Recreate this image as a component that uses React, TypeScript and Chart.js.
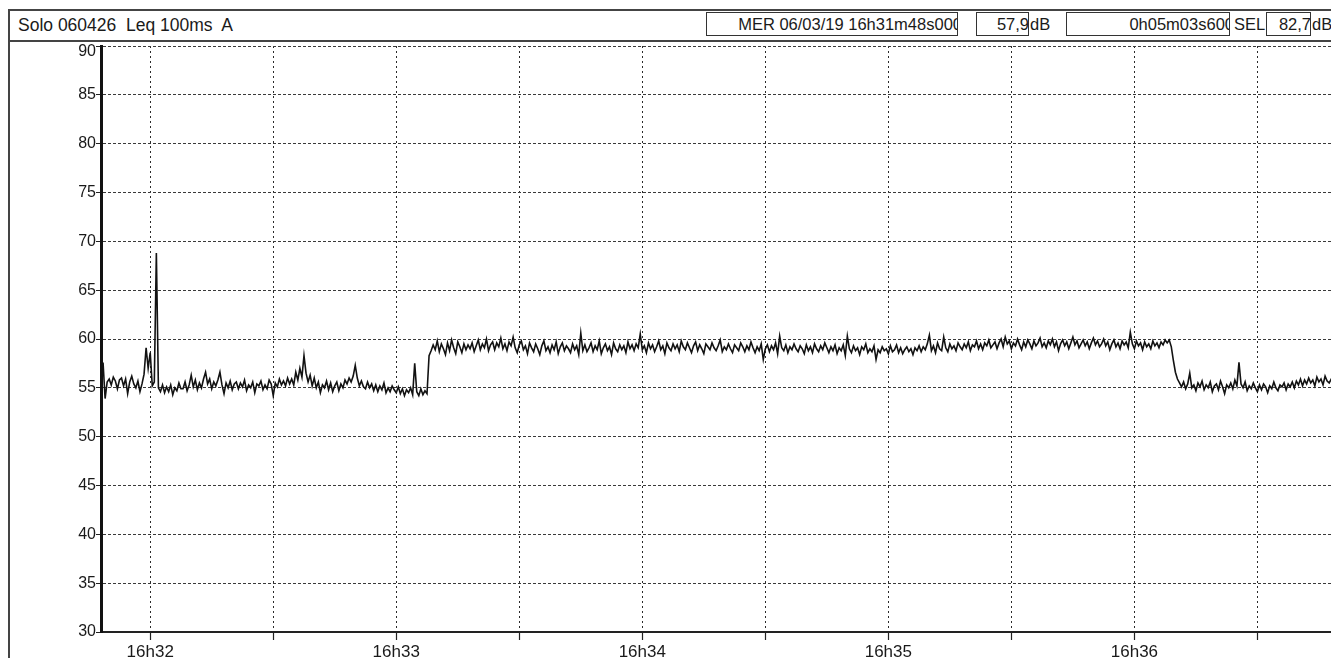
import React, { useEffect, useRef } from 'react';
import { Chart, registerables } from 'chart.js';

Chart.register(...registerables);

const FONT = '"Liberation Sans", Arial, sans-serif';

// Leq 100ms A, read every 0.5 s from 16h31m48s
const sampleStepSec = 0.5;
const totalSeconds = 303.6;
const levelsDb = [
  55.0, 57.6, 53.9, 55.6, 55.9, 55.3, 56.1, 55.7, 54.9, 55.8, 56.0, 55.2, 55.9, 54.4, 55.6, 56.2, 55.4, 55.0, 55.7, 54.6,
  55.4, 56.4, 59.1, 57.0, 58.6, 55.2, 55.6, 68.8, 55.0, 54.6, 55.3, 54.5, 55.1, 54.6, 55.3, 54.3, 55.0, 54.7, 55.5, 54.9,
  54.9, 55.6, 54.7, 55.3, 56.3, 55.1, 55.8, 54.8, 55.5, 55.0, 55.9, 56.6, 55.4, 55.9, 54.9, 55.6, 55.2, 55.8, 56.6, 55.3,
  54.4, 55.5, 55.0, 55.7, 54.8, 55.4, 55.6, 54.9, 55.5, 55.1, 55.8, 54.7, 55.3, 55.0, 55.6, 54.5, 55.4, 55.2, 55.7, 54.8,
  55.3, 54.9, 55.8, 55.4, 54.2, 55.5, 55.1, 55.9, 55.3, 55.7, 55.2, 56.0, 55.4, 55.9, 55.3, 56.6, 55.8, 57.0, 56.1, 58.3,
  56.5, 55.6, 56.3, 55.2, 56.0, 55.0, 55.6, 54.5, 55.3, 55.0, 55.7, 54.8, 55.5, 54.6, 55.2, 55.6, 54.7, 55.4, 55.0, 55.8,
  55.4, 56.0, 55.6, 56.2, 57.3, 56.0, 55.2, 55.7, 55.1, 54.9, 55.6, 55.0, 55.4, 54.7, 55.3, 54.6, 55.2, 54.8, 55.5, 54.5,
  55.0, 54.6, 55.2, 54.8, 54.5, 55.1, 54.4, 54.9, 54.2, 54.8, 54.5, 55.0, 54.3, 57.5, 54.6, 54.2, 54.9, 54.3, 54.7, 54.4,
  58.3, 58.8, 59.4, 58.9, 59.8, 58.7, 59.5, 59.0, 58.4, 59.6, 58.8, 59.9, 59.1, 58.5, 59.7, 59.2, 58.6, 59.5, 58.9, 59.4,
  59.0, 59.6, 58.7, 59.3, 59.9, 58.9, 59.5, 59.1, 60.0, 58.8, 59.4, 59.7, 58.9, 59.6, 59.2, 60.1, 59.0, 59.5, 58.8, 59.7,
  59.3, 60.2, 59.1, 58.6, 59.4, 59.8, 58.9, 59.3, 58.5, 59.6, 59.1, 58.7, 59.5, 59.0, 58.4, 59.3, 59.8, 58.8, 59.2, 58.6,
  59.4, 58.9, 59.7, 58.5, 59.2, 59.6, 58.8, 59.3, 59.0, 58.6, 59.5, 58.9, 59.3, 58.4, 60.6, 58.8, 59.4, 58.7, 59.1, 59.6,
  58.7, 59.3, 58.9, 59.8, 58.5, 59.1, 59.5, 58.8, 59.2, 58.4, 59.6, 59.0, 58.7, 59.4, 58.9, 59.3, 58.6, 59.7, 59.0, 59.4,
  58.8, 59.5, 59.1, 60.5, 58.9, 59.3, 58.6, 59.6, 59.0, 59.4, 58.7, 59.2, 59.8, 58.9, 59.3, 58.5, 59.6, 59.1, 58.8, 59.5,
  59.0, 59.4, 58.7, 59.8, 59.2, 58.9, 59.6, 59.1, 58.6, 59.3, 59.7, 58.8, 59.4, 59.0, 58.5, 59.5, 59.2, 58.9, 59.6, 59.1,
  58.8, 59.3, 59.9, 58.7, 59.2, 58.9, 59.5, 59.0, 58.6, 59.4, 59.1, 58.8, 59.6, 59.2, 58.7, 59.3, 58.9, 59.7, 59.1, 58.6,
  59.2, 58.8, 59.5, 57.9, 59.0, 59.4, 58.7, 59.3, 58.9, 59.6, 58.5, 60.3, 59.1, 58.8, 59.4, 58.6, 59.2, 58.9, 59.5, 59.0,
  58.7, 59.3, 59.0, 58.5, 59.4, 58.8, 59.2, 58.6, 59.5, 59.0, 58.7, 59.3, 58.9, 59.6, 59.1, 58.6, 59.2, 58.8, 59.4, 58.5,
  59.1, 58.8, 59.4, 58.3, 60.3, 59.0, 58.6, 59.3, 58.8, 59.1, 58.4, 59.2, 58.9, 59.5, 58.6, 59.0, 58.7, 59.3, 57.9, 58.9,
  58.6, 59.2, 58.8, 59.0, 58.5, 59.3, 58.7, 58.9, 59.4, 58.6, 59.1, 58.5, 58.9, 59.2, 58.7, 59.0, 58.4, 59.1, 58.8, 59.3,
  58.7, 59.2, 58.9, 59.5, 60.4, 58.8, 59.3, 58.6, 59.6, 59.0, 58.8, 60.2, 59.1, 58.7, 59.5, 59.0, 59.3, 58.8, 59.6, 59.2,
  58.9, 59.5, 59.1, 59.7, 58.8, 59.4, 59.2, 59.8, 59.0, 59.5, 58.9, 59.6, 59.3, 59.9, 59.1, 59.4, 59.7, 59.0, 59.6, 60.0,
  59.2, 60.2, 59.5, 59.8, 59.0, 59.6, 59.3, 60.0, 59.4, 58.9, 59.7, 59.2, 59.9, 59.5, 59.0, 59.8, 59.3, 59.6, 60.1, 59.2,
  59.6, 59.1, 59.8, 59.4, 60.0, 59.2, 59.7, 58.8, 59.5, 59.9, 59.3, 59.7, 59.0, 59.6, 60.2, 59.4, 59.8, 59.1, 59.5, 59.9,
  59.3, 59.7, 59.0, 59.6, 60.1, 59.4, 59.8, 59.2, 59.5, 60.0, 59.3, 59.7, 58.9, 59.5, 59.9, 59.2, 59.6, 59.0, 59.8, 59.4,
  59.7, 59.1, 60.7, 59.5, 59.0, 59.8, 59.3, 59.6, 58.9, 59.7, 59.2, 59.5, 59.0, 59.8, 59.3, 59.6, 59.1, 59.7, 59.4, 59.9,
  59.6, 59.9, 59.2, 57.8, 56.6, 55.9, 55.5, 55.1, 55.6, 54.9, 55.4, 56.5, 55.0, 55.3, 54.7, 55.5, 55.1, 55.7, 54.8, 55.3,
  55.0, 55.6, 54.6, 55.2, 55.4, 54.8, 55.7, 55.1, 54.4, 55.3, 55.0, 55.5, 54.9, 55.8, 55.2, 57.6, 55.4, 55.0, 55.6, 54.7,
  55.2, 54.9, 55.5, 55.0, 54.6, 55.3, 54.8, 55.4, 55.1, 54.5, 55.2, 54.9, 55.6, 55.0, 54.7, 55.3, 55.1, 55.5, 54.8, 55.4,
  55.1, 55.6, 55.0, 55.7, 55.3, 55.9, 55.2, 55.8, 55.4, 56.0, 55.5, 55.8, 55.2, 56.1, 55.6, 55.9, 55.3, 56.2, 55.7, 55.5,
  55.9, 55.4, 56.0, 59.8, 59.5, 59.9, 59.6, 59.8,
];

// seconds after 16h31m48s
const xTickSeconds = [12, 42, 72, 102, 132, 162, 192, 222, 252, 282];
const xTickLabels = ['16h32', '', '16h33', '', '16h34', '', '16h35', '', '16h36', ''];
const yTickValues = [30, 35, 40, 45, 50, 55, 60, 65, 70, 75, 80, 85, 90];

const headerTitle = 'Solo 060426  Leq 100ms  A';
const headerStart = 'MER 06/03/19 16h31m48s000';
const headerLeq = '57,9';
const headerDuration = '0h05m03s600';
const headerSelLabel = 'SEL';
const headerSel = '82,7';
const headerUnit = 'dB';

const yLabelPlugin = {
  id: 'yLabels',
  afterDraw(chart: any) {
    const { ctx, chartArea, scales } = chart;
    const y = scales.y;
    ctx.save();
    ctx.font = `16px ${FONT}`;
    ctx.fillStyle = '#1a1a1a';
    ctx.textAlign = 'right';
    ctx.textBaseline = 'middle';
    yTickValues.forEach((v) => {
      const py = Math.max(y.getPixelForValue(v), chartArea.top + 6);
      ctx.fillText(String(v), chartArea.left - 5, py);
    });
    ctx.restore();
  },
};

const boxBase: React.CSSProperties = {
  position: 'absolute',
  top: 4,
  height: 24,
  border: '1px solid #333',
  boxSizing: 'border-box',
  background: '#fff',
  overflow: 'hidden',
  whiteSpace: 'nowrap',
  fontSize: 16.5,
  display: 'flex',
  alignItems: 'center',
  justifyContent: 'flex-end',
};

const plainText: React.CSSProperties = {
  position: 'absolute',
  top: 4,
  height: 24,
  lineHeight: '24px',
  fontSize: 16.5,
  whiteSpace: 'nowrap',
};

export default function App() {
  const ref = useRef<HTMLCanvasElement>(null);

  useEffect(() => {
    const points = levelsDb.map((v, i) => ({ x: i * sampleStepSec, y: v }));
    const chart = new Chart(ref.current as HTMLCanvasElement, {
      type: 'line',
      data: {
        datasets: [
          {
            data: points,
            borderColor: '#121212',
            borderWidth: 1.6,
            pointRadius: 0,
            tension: 0,
            fill: false,
          },
        ],
      },
      options: {
        animation: false,
        responsive: false,
        devicePixelRatio: 1,
        parsing: false as any,
        layout: { padding: { top: 4, left: 0, right: 7, bottom: 0 } },
        plugins: {
          legend: { display: false },
          tooltip: { enabled: false },
          title: { display: false },
        },
        scales: {
          x: {
            type: 'linear',
            min: 0,
            max: totalSeconds,
            afterBuildTicks: (s: any) => {
              s.ticks = xTickSeconds.map((v) => ({ value: v }));
            },
            afterFit: (s: any) => {
              s.height = 26;
            },
            ticks: {
              autoSkip: false,
              maxRotation: 0,
              padding: 2,
              color: '#1a1a1a',
              font: { family: FONT, size: 17 },
              callback: (_v: any, i: number) => xTickLabels[i] ?? '',
            },
            grid: {
              color: '#2a2a2a',
              lineWidth: 1,
              tickLength: 8,
              tickColor: '#222',
              tickWidth: 1.2,
              tickBorderDash: [],
            },
            border: { display: true, color: '#222', width: 2, dash: [2, 3] },
          },
          y: {
            type: 'linear',
            min: 30,
            max: 90,
            afterBuildTicks: (s: any) => {
              s.ticks = yTickValues.map((v) => ({ value: v }));
            },
            afterFit: (s: any) => {
              s.width = 93;
            },
            ticks: { display: false },
            grid: {
              color: '#3a3a3a',
              lineWidth: 1,
              tickLength: 5,
              tickColor: '#222',
              tickBorderDash: [],
            },
            border: { display: true, color: '#111', width: 3, dash: [3, 2] },
          },
        },
      },
      plugins: [yLabelPlugin],
    } as any);
    return () => chart.destroy();
  }, []);

  return (
    <div
      style={{
        position: 'relative',
        width: 1331,
        height: 650,
        overflow: 'hidden',
        fontFamily: FONT,
        color: '#1a1a1a',
        background: '#fff',
      }}
    >
      <canvas
        ref={ref}
        width={1345}
        height={616}
        style={{ position: 'absolute', left: 0, top: 34, width: 1345, height: 616 }}
      />
      <div
        style={{
          position: 'absolute',
          left: 0,
          top: 1,
          width: 1345,
          height: 33,
          borderTop: '2px solid #444',
          borderBottom: '2px solid #444',
          borderLeft: '2px solid #444',
          boxSizing: 'border-box',
          background: '#fff',
        }}
      />
      <div
        style={{
          position: 'absolute',
          left: 10,
          top: 2,
          height: 30,
          lineHeight: '30px',
          fontSize: 17.5,
          whiteSpace: 'pre',
        }}
      >
        {headerTitle}
      </div>
      <div style={{ ...boxBase, left: 698, width: 252 }}>
        <span style={{ marginRight: -5 }}>{headerStart}</span>
      </div>
      <div style={{ ...boxBase, left: 968, width: 53 }}>
        <span style={{ marginRight: -1 }}>{headerLeq}</span>
      </div>
      <div style={{ ...plainText, left: 1022 }}>{headerUnit}</div>
      <div style={{ ...boxBase, left: 1058, width: 164 }}>
        <span style={{ marginRight: -5 }}>{headerDuration}</span>
      </div>
      <div style={{ ...plainText, left: 1226 }}>{headerSelLabel}</div>
      <div style={{ ...boxBase, left: 1258, width: 45 }}>
        <span style={{ marginRight: -1 }}>{headerSel}</span>
      </div>
      <div style={{ ...plainText, left: 1304 }}>{headerUnit}</div>
      <div
        style={{
          position: 'absolute',
          left: 0,
          top: 1,
          width: 2,
          height: 649,
          background: '#444',
        }}
      />
    </div>
  );
}
